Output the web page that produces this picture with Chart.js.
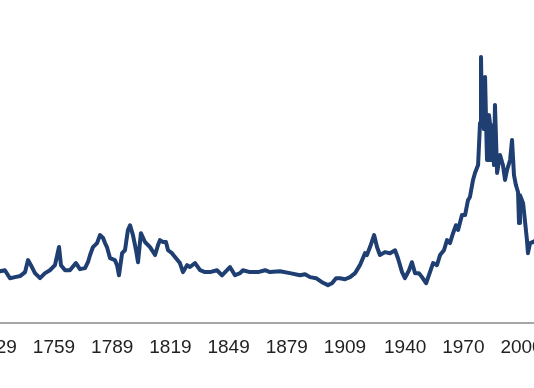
<!DOCTYPE html>
<html>
<head>
<meta charset="utf-8">
<script src="https://cdn.jsdelivr.net/npm/chart.js@4/dist/chart.umd.min.js"></script>
<style>
  html, body { margin: 0; padding: 0; background: #fff; overflow: hidden; }
  body { width: 534px; height: 388px; position: relative; }
  /* the reference is cropped on both sides, so the canvas runs past the window */
  #wrap { position: absolute; left: -40px; top: 0; width: 614px; height: 388px; }
</style>
</head>
<body>
<div id="wrap"><canvas id="myChart"></canvas></div>
<script>
// year of each reading
const years = [
  1728.1, 1731.2, 1733.7, 1736.3, 1738.9, 1741.5, 1744.1, 1745.6, 1747.1, 1749.2,
  1751.8, 1754.4, 1756.9, 1759.5, 1761.6, 1762.6, 1764.7, 1767.2, 1770.3, 1772.4,
  1775.0, 1776.5, 1777.6, 1779.1, 1781.2, 1782.7, 1784.3, 1785.3, 1786.3, 1787.9,
  1790.4, 1791.5, 1792.5, 1794.1, 1795.6, 1797.1, 1798.2, 1799.7, 1801.3, 1802.3,
  1803.8, 1805.9, 1808.5, 1811.1, 1812.6, 1813.6, 1815.2, 1816.7, 1817.8, 1819.8,
  1821.9, 1823.9, 1825.5, 1827.6, 1829.1, 1831.7, 1834.3, 1836.8, 1839.4, 1843.0,
  1845.6, 1849.7, 1852.3, 1854.9, 1856.4, 1860.0, 1864.2, 1867.8, 1870.3, 1875.5,
  1880.6, 1885.8, 1888.4, 1891.0, 1894.1, 1897.1, 1900.2, 1902.3, 1904.4, 1906.4,
  1909.0, 1911.6, 1914.2, 1916.7, 1919.3, 1920.3, 1921.9, 1924.0, 1925.5, 1927.0,
  1929.6, 1932.2, 1934.8, 1936.3, 1938.4, 1939.9, 1942.0, 1943.5, 1945.1, 1947.1,
  1948.7, 1950.8, 1952.8, 1954.4, 1956.4, 1958.0, 1960.0, 1961.6, 1963.1, 1964.7,
  1966.2, 1967.3, 1969.3, 1970.9, 1972.4, 1973.4, 1975.0, 1976.0, 1977.6, 1978.6,
  1979.1, 1979.6, 1980.1, 1980.6, 1981.2, 1981.7, 1982.2, 1982.7, 1982.9, 1983.2,
  1983.7, 1984.2, 1984.7, 1985.3, 1985.8, 1986.3,
  1987.4, 1988.9, 1990.4, 1991.5, 1992.5, 1994.1, 1995.1, 1996.1, 1997.1, 1998.2,
  1998.7, 1999.2, 2000.8, 2002.8, 2003.3, 2004.4, 2005.9, 2007.5
];

// index value (peak = 100)
const values = [
  19.2, 19.5, 19.9, 16.9, 17.3, 17.7, 19.2, 23.7, 21.8, 18.8,
  16.9, 18.8, 19.9, 21.8, 28.6, 21.8, 19.9, 19.9, 22.6, 20.3,
  20.7, 22.9, 25.6, 28.6, 30.1, 33.1, 32.0, 30.1, 28.6, 24.4,
  23.7, 21.8, 18.0, 26.3, 27.4, 35.0, 36.8, 33.1, 27.4, 22.9,
  33.8, 30.5, 28.6, 25.6, 29.3, 31.2, 30.5, 30.5, 27.4, 26.3,
  24.4, 22.6, 19.2, 21.8, 21.1, 22.6, 19.9, 19.2, 19.2, 19.9,
  18.0, 21.1, 18.0, 18.8, 19.9, 19.2, 19.2, 19.9, 19.2, 19.5,
  18.8, 18.0, 18.4, 17.3, 16.9, 15.4, 14.3, 15.0, 16.9, 16.9,
  16.5, 17.3, 18.8, 21.8, 26.3, 25.6, 28.6, 33.1, 28.6, 25.6,
  26.7, 26.3, 27.4, 24.4, 19.2, 16.9, 19.9, 22.9, 18.8, 18.8,
  17.3, 15.0, 19.2, 22.6, 21.8, 25.6, 27.4, 31.2, 30.1, 33.8,
  36.8, 35.0, 40.6, 40.6, 46.2, 47.4, 53.8, 56.4, 59.4, 75.2,
  100.0, 77.4, 91.4, 72.9, 92.5, 76.3, 61.3, 73.7, 65.0, 78.2,
  75.2, 61.3, 74.4, 68.8, 59.4, 82.0,
  56.4, 63.2, 59.4, 53.8, 57.5, 61.3, 68.8, 55.6, 51.9, 49.2,
  37.6, 48.1, 45.1, 31.2, 26.3, 30.1, 30.5, 31.2
];

// x axis labels
const tickYears = [1729, 1759, 1789, 1819, 1849, 1879, 1909, 1940, 1970, 2000];

const ctx = document.getElementById("myChart").getContext("2d");
const myChart = new Chart(ctx, {
  type: "line",
  data: {
    datasets: [
      {
        data: years.map((yr, i) => ({ x: yr, y: values[i] })),
        borderColor: "#1f3e72",
        borderWidth: 4,
        borderJoinStyle: "round",
        borderCapStyle: "round",
        pointRadius: 0,
        tension: 0,
        fill: false,
      },
    ],
  },
  options: {
    responsive: true,
    maintainAspectRatio: false,
    animation: false,
    layout: { padding: { left: 0, right: 0, top: 0, bottom: 16 } },
    plugins: { legend: { display: false }, tooltip: { enabled: false } },
    scales: {
      x: {
        type: "linear",
        min: 1710.55,
        max: 2027.04,
        grid: { display: false, drawTicks: false },
        border: { display: true, color: "#a6a6a6", width: 2 },
        afterBuildTicks: (scale) => {
          scale.ticks = tickYears.map((v) => ({ value: v }));
        },
        ticks: {
          padding: 13,
          color: "#222",
          font: { family: "'Liberation Sans', Arial, sans-serif", size: 19 },
          maxRotation: 0,
          autoSkip: false,
          callback: (v) => String(v),
        },
      },
      y: {
        display: false,
        min: 0,
        max: 121.4,
      },
    },
  },
});
</script>
</body>
</html>
